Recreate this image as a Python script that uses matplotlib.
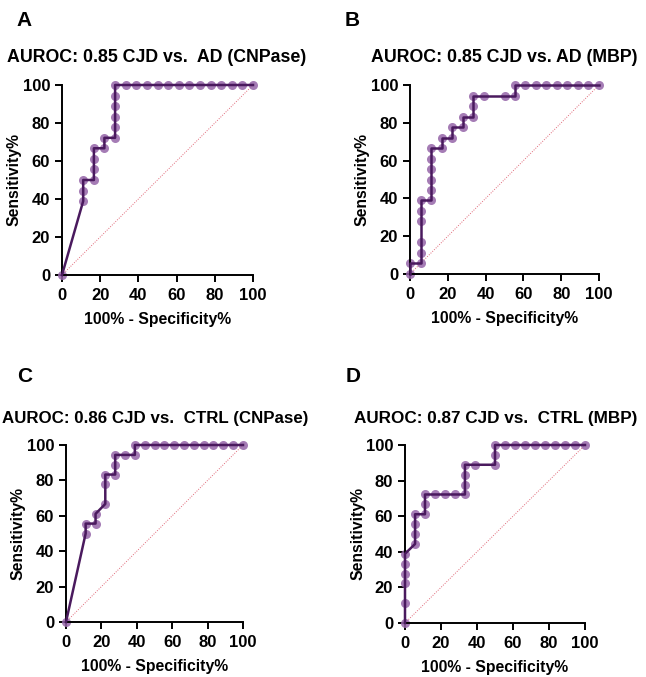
import matplotlib
matplotlib.use("Agg")
import matplotlib.pyplot as plt

plt.rcParams['font.family'] = ['Liberation Sans', 'DejaVu Sans']
plt.rcParams['font.weight'] = 'bold'

# ROC points (100% - specificity, sensitivity)
a_fpr = [0, 11.1, 11.1, 11.1, 16.7, 16.7, 16.7, 16.7, 22.2, 22.2, 27.8, 27.8, 27.8, 27.8, 27.8, 27.8,
         33.3, 38.9, 44.4, 50.0, 55.6, 61.1, 66.7, 72.2, 77.8, 83.3, 88.9, 94.4, 100]
a_sens = [0, 38.9, 44.4, 50.0, 50.0, 55.6, 61.1, 66.7, 66.7, 72.2, 72.2, 77.8, 83.3, 88.9, 94.4, 100,
          100, 100, 100, 100, 100, 100, 100, 100, 100, 100, 100, 100, 100]

b_fpr = [0, 0, 5.6, 5.6, 5.6, 5.6, 5.6, 5.6, 11.1, 11.1, 11.1, 11.1, 11.1, 11.1, 16.7, 16.7, 22.2, 22.2,
         27.8, 27.8, 33.3, 33.3, 33.3, 38.9, 50.0, 55.6, 55.6, 61.1, 66.7, 72.2, 77.8, 83.3, 88.9, 94.4, 100]
b_sens = [0, 5.6, 5.6, 11.1, 16.7, 27.8, 33.3, 38.9, 38.9, 44.4, 50.0, 55.6, 61.1, 66.7, 66.7, 72.2, 72.2, 77.8,
          77.8, 83.3, 83.3, 88.9, 94.4, 94.4, 94.4, 94.4, 100, 100, 100, 100, 100, 100, 100, 100, 100]

c_fpr = [0, 11.1, 11.1, 16.7, 16.7, 22.2, 22.2, 22.2, 27.8, 27.8, 27.8, 33.3, 38.9, 38.9, 44.4, 50.0,
         55.6, 61.1, 66.7, 72.2, 77.8, 83.3, 88.9, 94.4, 100]
c_sens = [0, 50.0, 55.6, 55.6, 61.1, 66.7, 77.8, 83.3, 83.3, 88.9, 94.4, 94.4, 94.4, 100, 100, 100,
          100, 100, 100, 100, 100, 100, 100, 100, 100]

d_fpr = [0, 0, 0, 0, 0, 0, 5.6, 5.6, 5.6, 5.6, 11.1, 11.1, 11.1, 16.7, 22.2, 27.8, 33.3, 33.3, 33.3, 33.3,
         38.9, 50.0, 50.0, 50.0, 55.6, 61.1, 66.7, 72.2, 77.8, 83.3, 88.9, 94.4, 100]
d_sens = [0, 11.1, 22.2, 27.8, 33.3, 38.9, 44.4, 50.0, 55.6, 61.1, 61.1, 66.7, 72.2, 72.2, 72.2, 72.2, 72.2,
          77.8, 83.3, 88.9, 88.9, 88.9, 94.4, 100, 100, 100, 100, 100, 100, 100, 100, 100, 100]

titles = ["AUROC: 0.85 CJD vs.  AD (CNPase)", "AUROC: 0.85 CJD vs. AD (MBP)",
          "AUROC: 0.86 CJD vs.  CTRL (CNPase)", "AUROC: 0.87 CJD vs.  CTRL (MBP)"]
letters = ["A", "B", "C", "D"]
series = [(a_fpr, a_sens), (b_fpr, b_sens), (c_fpr, c_sens), (d_fpr, d_sens)]

W, H = 646, 677
fig = plt.figure(figsize=(W / 100, H / 100), dpi=100)

# axes boxes in pixels: left, right, top, bottom
boxes = [(62, 253, 85, 275), (410, 599, 85, 274), (66, 243, 445, 622), (405, 585, 445, 623)]
title_pos = [(157, 57), (504, 57), (155, 418), (496, 418)]
title_size = [12.8, 12.8, 12.2, 12.3]
letter_pos = [(16, 20), (345, 20), (17, 376), (346, 377)]

for i, ((fpr, sens), t, lab) in enumerate(zip(series, titles, letters)):
    l, r, tp, b = boxes[i]
    ax = fig.add_axes([l / W, 1 - b / H, (r - l) / W, (b - tp) / H])
    ax.plot([0, 100], [0, 100], color='#e06878', lw=0.7, ls=(0, (1, 1.5)), zorder=1)
    ax.plot(fpr, sens, color='#4a1a5e', lw=1.8, zorder=3, clip_on=False)
    ax.plot(fpr, sens, ls='none', marker='o', ms=6.5, color='#9565a8', alpha=0.85, mec='none',
            zorder=2, clip_on=False)
    ax.set_xlim(0, 100)
    ax.set_ylim(0, 100)
    ax.set_xticks(range(0, 101, 20))
    ax.set_yticks(range(0, 101, 20))
    for s in ['top', 'right']:
        ax.spines[s].set_visible(False)
    for s in ['left', 'bottom']:
        ax.spines[s].set_linewidth(1.4)
    ax.tick_params(width=1.4, length=5, labelsize=12, pad=3.5)
    ax.tick_params(axis='x', pad=4.5)
    ax.set_xlabel("100% - Specificity%", fontsize=11.3, fontweight='bold', labelpad=6.5)
    ax.set_ylabel("Sensitivity%", fontsize=11.3, fontweight='bold', labelpad=0.5)
    tx, ty = title_pos[i]
    fig.text(tx / W, 1 - ty / H, t, ha='center', va='center', fontsize=title_size[i], fontweight='bold')
    lx, ly = letter_pos[i]
    fig.text(lx / W, 1 - ly / H, lab, ha='left', va='center', fontsize=15, fontweight='bold')

fig.savefig('out.png', dpi=100, facecolor='white')
